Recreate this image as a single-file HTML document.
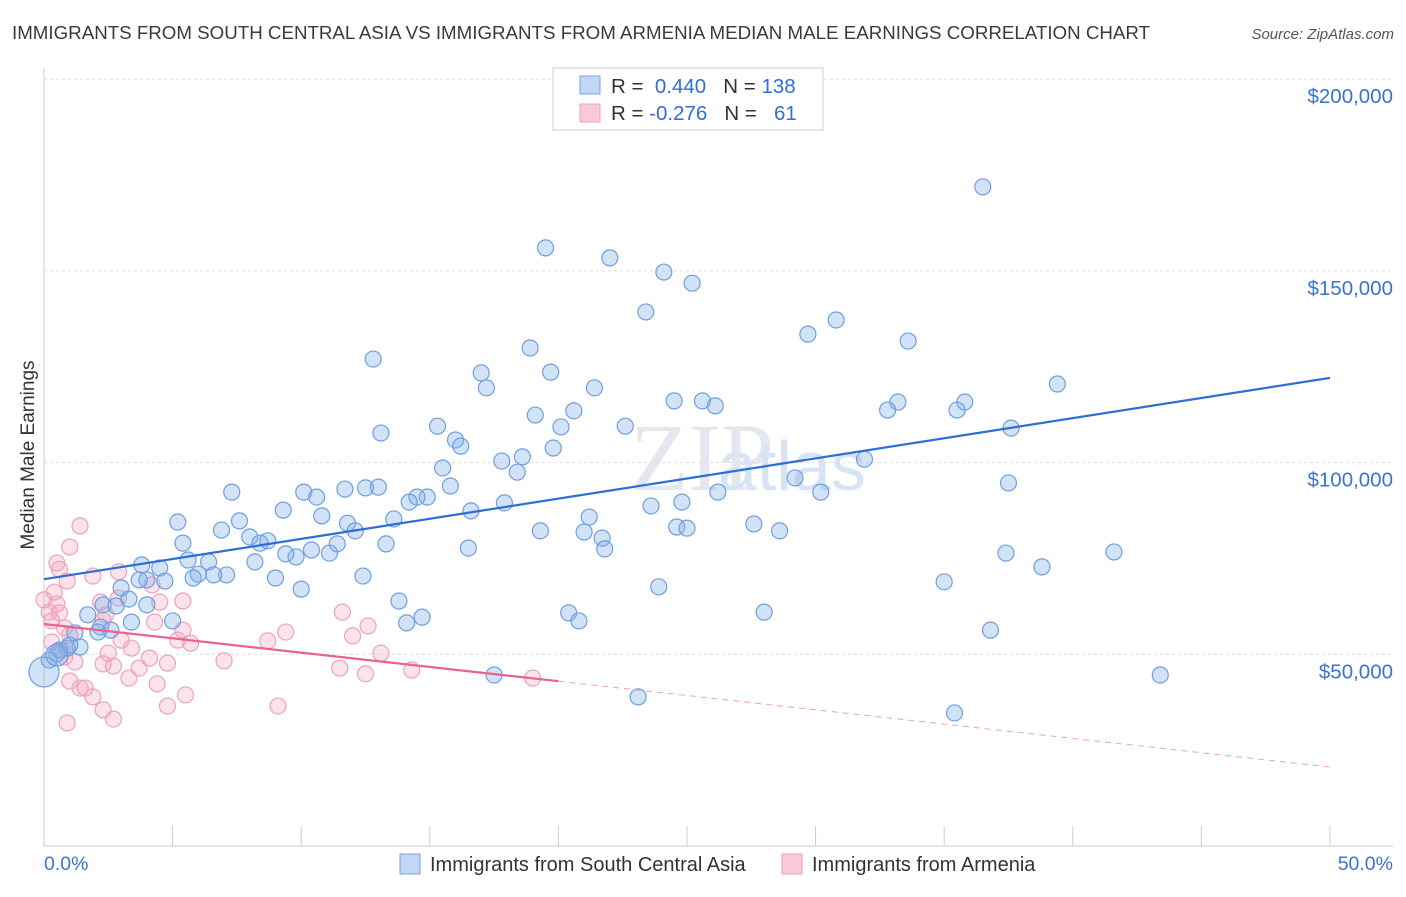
<!DOCTYPE html>
<html><head><meta charset="utf-8"><style>
body{margin:0;background:#fff;font-family:"Liberation Sans",sans-serif;}
</style></head><body>
<svg id="c" width="1406" height="892" xmlns="http://www.w3.org/2000/svg" style="font-family:'Liberation Sans',sans-serif">
<text x="12" y="39" font-size="18" fill="#3a3a3a" textLength="1138" lengthAdjust="spacingAndGlyphs">IMMIGRANTS FROM SOUTH CENTRAL ASIA VS IMMIGRANTS FROM ARMENIA MEDIAN MALE EARNINGS CORRELATION CHART</text>
<text x="1394" y="39" font-size="15" fill="#555" font-style="italic" text-anchor="end">Source: ZipAtlas.com</text>
<text transform="translate(34,455) rotate(-90)" font-size="19" fill="#333" text-anchor="middle">Median Male Earnings</text>
<text x="630" y="490" font-size="96" fill="#e4e8ee" font-family="Liberation Serif">ZIP</text>
<text x="718" y="490" font-size="70" fill="#d6e4f5">atlas</text>
<g id="grid"></g><g id="pts"></g><g id="lines"></g>
<g>
<rect x="553" y="68" width="270" height="62" fill="#fff" stroke="#ccc"/>
<rect x="580" y="76" width="20" height="18" fill="#c2d7f5" stroke="#7aa6e2"/>
<rect x="580" y="104" width="20" height="18" fill="#f8c9d8" stroke="#eba3bb"/>
<text x="611" y="93" font-size="20.5" fill="#333">R = <tspan fill="#2f6fd6">&#160;0.440</tspan>&#160;&#160;&#160;N = <tspan fill="#2f6fd6">138</tspan></text>
<text x="611" y="120" font-size="20.5" fill="#333">R = <tspan fill="#2f6fd6">-0.276</tspan>&#160;&#160;&#160;N = <tspan fill="#2f6fd6">&#160;&#160;61</tspan></text>
</g>
<g>
<rect x="400" y="854" width="20" height="20" fill="#c2d7f5" stroke="#7aa6e2"/>
<text x="430" y="871" font-size="20" fill="#333">Immigrants from South Central Asia</text>
<rect x="782" y="854" width="20" height="20" fill="#f8c9d8" stroke="#eba3bb"/>
<text x="812" y="871" font-size="20" fill="#333">Immigrants from Armenia</text>
</g>
<text x="44" y="870" font-size="19.5" fill="#3b73d0">0.0%</text>
<text x="1393" y="870" font-size="19.5" fill="#3b73d0" text-anchor="end">50.0%</text>
</svg>
<script>
const yTicks=[50000,100000,150000,200000];
const yTickLabels=["$50,000","$100,000","$150,000","$200,000"];
const xTicks=[5,10,15,20,25,30,35,40,45,50];
const blueX=[36.5,19.5,22.0,24.1,25.2,23.4,30.8,29.7,33.6,12.8,18.9,17.0,17.2,19.7,21.4,39.4,33.2,32.8,35.8,35.5,25.6,24.5,26.1,20.6,19.1,20.1,22.6,37.6,15.3,13.1,16.0,16.2,19.8,18.6,17.8,18.4,15.5,31.9,29.2,30.2,37.5,26.2,24.8,23.6,21.2,19.3,21.0,21.7,21.8,24.6,25.0,27.6,28.6,16.5,16.6,17.9,15.8,14.9,14.5,14.2,13.0,12.5,11.7,10.1,10.6,10.8,11.8,12.1,13.6,13.3,11.4,11.1,9.8,9.4,10.4,9.3,7.3,7.6,6.9,8.0,8.4,8.7,5.2,5.4,4.5,3.8,5.6,6.0,6.4,7.1,5.8,6.6,8.2,9.0,10.0,12.4,4.0,4.7,3.0,3.7,3.3,4.0,2.3,2.8,1.7,2.2,2.6,3.4,5.0,2.1,1.2,1.4,0.9,0.5,0.2,0.6,1.0,13.8,14.1,14.7,20.4,20.8,28.0,23.9,35.0,37.4,38.8,41.6,36.8,43.4,35.4,23.1,17.5,0.0,0.5];
const blueY=[171.9,156.0,153.4,149.7,146.8,139.3,137.2,133.5,131.7,127.0,129.9,123.4,119.5,123.6,119.5,120.5,115.8,113.7,115.8,113.7,116.1,116.1,114.8,113.5,112.4,109.3,109.5,109.0,109.5,107.7,105.9,104.3,103.8,101.5,100.4,97.5,98.6,100.9,96.0,92.3,94.7,92.3,89.7,88.7,85.8,82.2,81.9,80.3,77.5,83.2,82.9,84.0,82.2,77.7,87.4,89.5,93.9,91.0,91.0,89.7,93.6,93.4,93.1,92.3,91.0,86.1,84.2,82.2,85.3,78.8,78.8,76.4,75.4,76.2,77.2,87.6,92.3,84.8,82.4,80.6,79.0,79.6,84.5,79.0,72.5,73.3,74.6,70.9,74.1,70.7,69.9,70.7,74.1,69.9,67.0,70.4,69.4,69.1,67.3,69.4,64.4,62.9,62.9,62.6,60.3,57.1,56.3,58.4,58.7,55.8,55.6,51.9,51.6,50.1,48.5,51.1,52.4,63.9,58.2,59.7,60.8,58.7,61.0,67.6,68.9,76.4,72.8,76.7,56.3,44.6,34.7,38.9,44.6,45.4,49.8];
const pinkX=[1.4,1.0,0.5,0.6,0.9,2.9,1.9,0.4,0.5,0.2,0.6,0.3,0.8,2.2,2.4,2.3,4.2,2.9,4.5,5.4,4.3,5.4,5.7,5.2,3.0,3.4,4.1,2.5,1.2,0.8,1.0,0.3,0.7,2.3,2.7,3.7,4.8,7.0,8.7,9.4,11.6,12.6,12.0,13.1,11.5,12.5,14.3,19.0,3.3,4.4,1.0,1.4,1.6,1.9,5.5,4.8,2.3,2.7,0.9,9.1,0.0];
const pinkY=[83.5,78.0,73.8,72.2,69.1,71.5,70.4,66.2,63.1,61.0,60.8,58.7,56.9,63.6,60.3,58.9,68.1,64.7,63.6,63.9,58.4,56.3,52.9,53.7,53.7,51.6,49.0,50.3,48.0,49.3,55.0,53.2,51.1,47.5,46.9,46.4,47.7,48.3,53.5,55.8,61.0,57.4,54.8,50.3,46.4,44.9,45.9,43.8,43.8,42.3,43.0,41.2,41.2,38.9,39.4,36.5,35.5,33.1,32.1,36.5,64.2];
const blueTrend=[69.6,122.1];
const pinkTrend=[57.9,20.6];
const pinkSolidEnd=20.0;
const NS="http://www.w3.org/2000/svg";
const X=v=>44+v/50*1286;
const Y=v=>846-v/50000*191.7;
const Yk=v=>Y(v*1000);
function mk(tag,attrs,parent){const e=document.createElementNS(NS,tag);for(const k in attrs)e.setAttribute(k,attrs[k]);parent.appendChild(e);return e;}
const grid=document.getElementById('grid');
yTicks.forEach((t,i)=>{
  const l=mk('line',{x1:44,x2:1393,y1:Y(t),y2:Y(t),stroke:'#ddd','stroke-dasharray':'3,3'},grid);
  
  
  const tx=mk('text',{x:1393,y:Y(t)+24,'font-size':20.5,fill:'#3b73d0','text-anchor':'end'},grid);
  tx.textContent=yTickLabels[i];
  
  
});
const ax=mk('line',{x1:44,x2:1393,y1:846,y2:846,stroke:'#ccc'},grid);


const ay=mk('line',{x1:44,x2:44,y1:68,y2:846,stroke:'#ccc'},grid);


xTicks.forEach(t=>{
  const l=mk('line',{x1:X(t),x2:X(t),y1:826,y2:846,stroke:'#ccc'},grid);
  
  
});
const pts=document.getElementById('pts');
pinkX.forEach((x,i)=>{
  const c=mk('circle',{cx:X(x),cy:Yk(pinkY[i]),r:8,fill:'rgba(242,160,188,0.3)',stroke:'#eca3bc','stroke-width':1.2},pts);
  
  
});
blueX.forEach((x,i)=>{
  let r=8; if(i===blueX.length-2) r=15; if(i===blueX.length-1) r=11;
  const c=mk('circle',{cx:X(x),cy:Yk(blueY[i]),r:r,fill:'rgba(130,175,232,0.35)',stroke:'#6d9fe0','stroke-width':1.2},pts);
  
  
});
const lines=document.getElementById('lines');
const bl=mk('line',{x1:X(0),y1:Yk(blueTrend[0]),x2:X(50),y2:Yk(blueTrend[1]),stroke:'#2d6fd6','stroke-width':2.2},lines);


const pv=x=>pinkTrend[0]+(pinkTrend[1]-pinkTrend[0])*x/50;
const pl=mk('line',{x1:X(0),y1:Yk(pv(0)),x2:X(pinkSolidEnd),y2:Yk(pv(pinkSolidEnd)),stroke:'#e8638f','stroke-width':2.2},lines);


const pd=mk('line',{x1:X(pinkSolidEnd),y1:Yk(pv(pinkSolidEnd)),x2:X(50),y2:Yk(pv(50)),stroke:'#eea0b8','stroke-width':1,'stroke-dasharray':'6,5'},lines);


</script>
</body></html>
